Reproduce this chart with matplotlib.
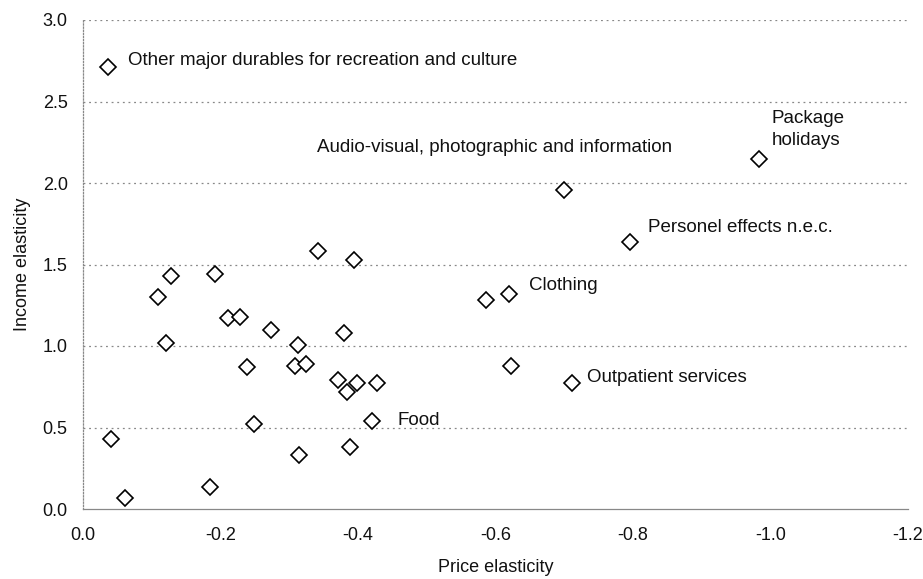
import matplotlib
matplotlib.use("Agg")
import matplotlib.pyplot as plt

plt.rcParams['font.family'] = ['Liberation Sans', 'DejaVu Sans']

price_elasticity = [
    -0.037, -0.983, -0.700, -0.795, -0.619, -0.586, -0.622, -0.711,
    -0.128, -0.109, -0.121, -0.192, -0.211, -0.228, -0.274, -0.312,
    -0.238, -0.308, -0.325, -0.342, -0.394, -0.379, -0.371, -0.384,
    -0.398, -0.428, -0.421, -0.388, -0.249, -0.314, -0.185, -0.041,
    -0.061,
]
income_elasticity = [
    2.71, 2.145, 1.957, 1.64, 1.32, 1.28, 0.88, 0.77,
    1.43, 1.30, 1.02, 1.44, 1.17, 1.18, 1.10, 1.006,
    0.87, 0.88, 0.89, 1.585, 1.53, 1.08, 0.79, 0.72,
    0.775, 0.775, 0.54, 0.38, 0.52, 0.33, 0.137, 0.43,
    0.066,
]

label_names = [
    "Other major durables for recreation and culture",
    "Package\nholidays",
    "Audio-visual, photographic and information",
    "Personel effects n.e.c.",
    "Clothing",
    "Outpatient services",
    "Food",
]
label_index = [0, 1, 2, 3, 4, 7, 26]

x_ticks = [0.0, -0.2, -0.4, -0.6, -0.8, -1.0, -1.2]
y_ticks = [0.0, 0.5, 1.0, 1.5, 2.0, 2.5, 3.0]

fig = plt.figure(figsize=(9.23, 5.79), dpi=100)
ax = fig.add_axes([83/923, 1 - 509/579, (908 - 83)/923, (509 - 20)/579])

ax.plot(price_elasticity, income_elasticity, linestyle='none', marker='D',
        markersize=8, markerfacecolor='white', markeredgecolor='black',
        markeredgewidth=1.2, zorder=3)

ax.set_xlim(0.0, -1.2)
ax.set_ylim(0.0, 3.0)
ax.set_xticks(x_ticks)
ax.set_yticks(y_ticks)
ax.set_xticklabels([f"{v:.1f}" for v in x_ticks])
ax.set_yticklabels([f"{v:.1f}" for v in y_ticks])
ax.tick_params(axis='both', length=0, labelsize=13, colors='#111111')
ax.tick_params(axis='x', pad=13)
ax.tick_params(axis='y', pad=11)

for yv in y_ticks[1:]:
    ax.axhline(yv, color='#888888', linestyle=(0, (1.5, 3)), linewidth=0.9, zorder=1)

ax.spines['top'].set_visible(False)
ax.spines['right'].set_visible(False)
ax.spines['left'].set_color('#888888')
ax.spines['left'].set_linestyle((0, (1, 1.5)))
ax.spines['left'].set_linewidth(0.9)
ax.spines['bottom'].set_color('#888888')
ax.spines['bottom'].set_linewidth(0.9)

offsets = {
    0: (20, 7, 'left'),
    1: (13, 30, 'left'),
    2: (108, 43, 'right'),
    3: (18, 14, 'left'),
    4: (20, 8, 'left'),
    7: (15, 6, 'left'),
    26: (25, 0, 'left'),
}
for name, idx in zip(label_names, label_index):
    dx, dy, ha = offsets[idx]
    ax.annotate(name, xy=(price_elasticity[idx], income_elasticity[idx]),
                xytext=(dx, dy), textcoords='offset pixels',
                ha=ha, va='center', fontsize=13.5, color='#111111',
                linespacing=1.4)

ax.set_xlabel("Price elasticity", fontsize=13, color='#111111', labelpad=11)
ax.set_ylabel("Income elasticity", fontsize=13, color='#111111', labelpad=8)

fig.savefig("out.png", dpi=100)
